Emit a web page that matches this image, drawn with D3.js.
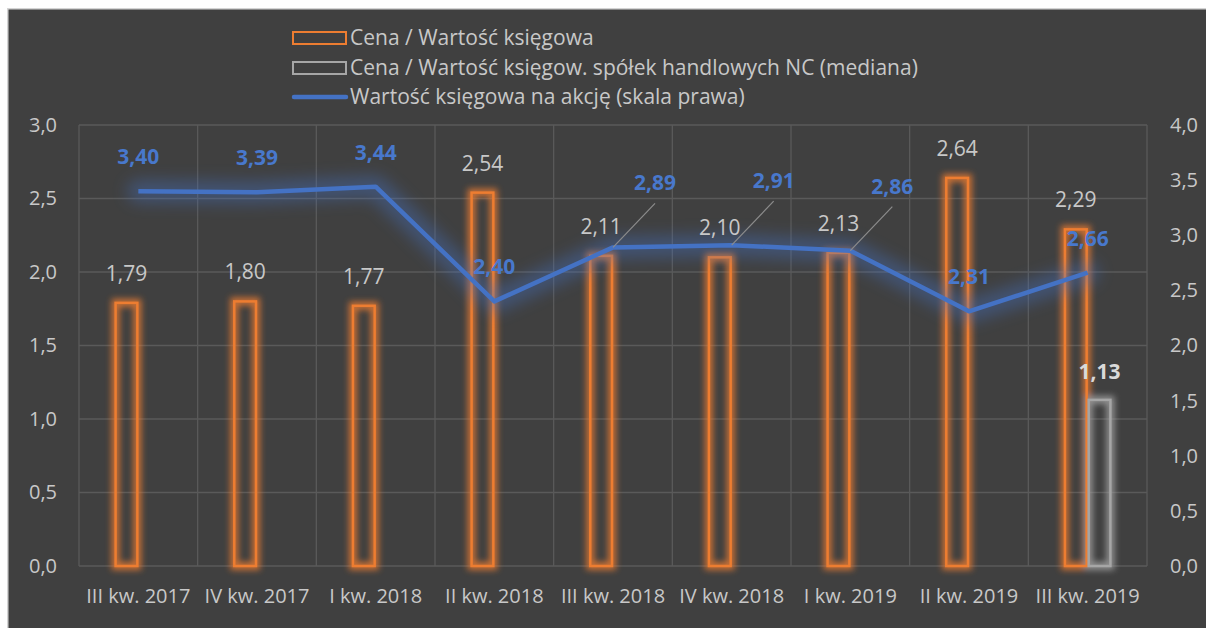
<!DOCTYPE html>
<html>
<head>
<meta charset="utf-8">
<script src="https://cdn.jsdelivr.net/npm/d3@7"></script>
<style>
  body { margin: 0; background: #fff; overflow: hidden; }
  svg { display: block; font-family: "Open Sans", sans-serif; }
</style>
</head>
<body>
<svg id="chart" width="1206" height="628"></svg>
<script>
var categories = ['III kw. 2017', 'IV kw. 2017', 'I kw. 2018', 'II kw. 2018', 'III kw. 2018',
  'IV kw. 2018', 'I kw. 2019', 'II kw. 2019', 'III kw. 2019']
var pbv = [1.79, 1.80, 1.77, 2.54, 2.11, 2.10, 2.13, 2.64, 2.29]
var pbvMedian = [null, null, null, null, null, null, null, null, 1.13]
var bvps = [3.40, 3.39, 3.44, 2.40, 2.89, 2.91, 2.86, 2.31, 2.66]
var leftTicks = [0, 0.5, 1.0, 1.5, 2.0, 2.5, 3.0]
var rightTicks = [0, 0.5, 1.0, 1.5, 2.0, 2.5, 3.0, 3.5, 4.0]
var legendLabels = ['Cena / Wartość księgowa',
  'Cena / Wartość księgow. spółek handlowych NC (mediana)',
  'Wartość księgowa na akcję (skala prawa)']

var width = 1206
var height = 628
var margin = { top: 125, right: 59, bottom: 62, left: 79 }

var orange = '#ed7d31'
var grey = '#a6a6a6'
var blue = '#4472c4'
var txt = '#c8c8c8'

var fmt = d => d3.format('.2f')(d).replace('.', ',')
var fmtAxis = d => d3.format('.1f')(d).replace('.', ',')

var svg = d3.select('#chart')

// background frame
svg.append('rect').attr('x', 7).attr('y', 8).attr('width', width).attr('height', height)
  .attr('fill', '#d4d4d4')
svg.append('rect').attr('x', 8.5).attr('y', 9.5).attr('width', width).attr('height', height)
  .attr('fill', '#404040')

// blur filters for the glow layers
var defs = svg.append('defs')
var blur = (id, sd) => {
  defs.append('filter').attr('id', id)
    .attr('x', '-60%').attr('y', '-60%').attr('width', '220%').attr('height', '220%')
    .append('feGaussianBlur').attr('stdDeviation', sd)
}
blur('blurBar', 3)
blur('blurLine', 8)

var x = d3.scaleBand().domain(categories).range([margin.left, width - margin.right])
var yL = d3.scaleLinear().domain([0, 3]).range([height - margin.bottom, margin.top])
var yR = d3.scaleLinear().domain([0, 4]).range([height - margin.bottom, margin.top])
var bw = x.bandwidth() * 0.2
var cx = i => x(categories[i]) + x.bandwidth() / 2

// gridlines
var grid = svg.append('g').attr('stroke', '#5a5a5a').attr('stroke-width', 1.3)
grid.selectAll('.h').data(leftTicks).join('line')
  .attr('x1', margin.left).attr('x2', width - margin.right)
  .attr('y1', d => yL(d)).attr('y2', d => yL(d))
grid.selectAll('.v').data(categories.concat(['end'])).join('line')
  .attr('x1', d => d === 'end' ? width - margin.right : x(d))
  .attr('x2', d => d === 'end' ? width - margin.right : x(d))
  .attr('y1', yL(3)).attr('y2', yL(0))

// axes
var axL = svg.append('g').attr('transform', 'translate(' + margin.left + ',0)')
  .call(d3.axisLeft(yL).tickValues(leftTicks).tickFormat(fmtAxis).tickSize(0).tickPadding(22))
var axR = svg.append('g').attr('transform', 'translate(' + (width - margin.right) + ',0)')
  .call(d3.axisRight(yR).tickValues(rightTicks).tickFormat(fmtAxis).tickSize(0).tickPadding(23))
var axB = svg.append('g').attr('transform', 'translate(0,' + yL(0) + ')')
  .call(d3.axisBottom(x).tickSize(0).tickPadding(23))
;[axL, axR, axB].forEach(a => {
  a.select('.domain').remove()
  a.selectAll('text').attr('fill', txt).attr('font-size', 20)
    .attr('font-family', '"Open Sans", sans-serif')
})

// bars: a blurred thick outline under a crisp one
var pbvData = pbv.map((v, i) => ({ v: v, i: i, dx: -bw, color: orange }))
var medData = pbvMedian.map((v, i) => ({ v: v, i: i, dx: 0, color: grey })).filter(d => d.v != null)
var barData = pbvData.concat(medData)

svg.append('g').attr('filter', 'url(#blurBar)').attr('opacity', 0.8)
  .selectAll('rect').data(barData).join('rect')
  .attr('x', d => cx(d.i) + d.dx + 1)
  .attr('y', d => yL(d.v))
  .attr('width', bw - 2)
  .attr('height', d => yL(0) - yL(d.v))
  .attr('fill', 'none').attr('stroke', d => d.color).attr('stroke-width', 8)

svg.append('g').selectAll('rect').data(barData).join('rect')
  .attr('x', d => cx(d.i) + d.dx + 1)
  .attr('y', d => yL(d.v))
  .attr('width', bw - 2)
  .attr('height', d => yL(0) - yL(d.v))
  .attr('fill', 'none').attr('stroke', d => d.color).attr('stroke-width', 2.5)

// line with glow
var line = d3.line().x((d, i) => cx(i)).y(d => yR(d))
svg.append('path').datum(bvps)
  .attr('d', line)
  .attr('fill', 'none').attr('stroke', blue).attr('stroke-width', 22)
  .attr('stroke-linejoin', 'round').attr('stroke-linecap', 'round')
  .attr('opacity', 0.4).attr('filter', 'url(#blurLine)')
svg.append('path').datum(bvps)
  .attr('d', line)
  .attr('fill', 'none').attr('stroke', blue).attr('stroke-width', 4.5)
  .attr('stroke-linejoin', 'round')

// bar labels
svg.append('g').selectAll('text').data(pbvData).join('text')
  .attr('x', d => cx(d.i) - bw / 2)
  .attr('y', d => yL(d.v) - 22)
  .attr('text-anchor', 'middle').attr('font-size', 21).attr('fill', txt)
  .text(d => fmt(d.v))

svg.append('g').selectAll('text').data(medData).join('text')
  .attr('x', d => cx(d.i) + bw / 2)
  .attr('y', d => yL(d.v) - 21)
  .attr('text-anchor', 'middle').attr('font-size', 21).attr('font-weight', 700).attr('fill', '#d9d9d9')
  .text(d => fmt(d.v))

// line labels, three of them pushed out with leader lines
var leader = [4, 5, 6]
var lineData = bvps.map((v, i) => ({ v: v, i: i, lead: leader.includes(i) }))
svg.append('g').selectAll('line').data(lineData.filter(d => d.lead)).join('line')
  .attr('x1', d => cx(d.i))
  .attr('y1', d => yR(d.v))
  .attr('x2', d => cx(d.i) + 42)
  .attr('y2', d => yR(d.v) - 44)
  .attr('stroke', '#8c8c8c').attr('stroke-width', 1.2)

svg.append('g').selectAll('text').data(lineData).join('text')
  .attr('x', d => cx(d.i) + (d.lead ? 42 : 0))
  .attr('y', d => yR(d.v) - (d.lead ? 57 : 27))
  .attr('text-anchor', 'middle').attr('font-size', 21).attr('font-weight', 700).attr('fill', '#4878cc')
  .text(d => fmt(d.v))

// legend
var lg = svg.append('g').attr('font-size', 21).attr('fill', txt)
lg.append('rect').attr('x', 293).attr('y', 32).attr('width', 53).attr('height', 12)
  .attr('fill', 'none').attr('stroke', orange).attr('stroke-width', 2)
lg.append('rect').attr('x', 293).attr('y', 62).attr('width', 53).attr('height', 12)
  .attr('fill', 'none').attr('stroke', grey).attr('stroke-width', 2)
lg.append('line').attr('x1', 294).attr('x2', 346).attr('y1', 97).attr('y2', 97)
  .attr('stroke', blue).attr('stroke-width', 4.5).attr('stroke-linecap', 'round')
lg.selectAll('text').data(legendLabels).join('text')
  .attr('x', 350)
  .attr('y', (d, i) => 38 + i * 29.5)
  .attr('dy', '0.35em')
  .text(d => d)
</script>
</body>
</html>
